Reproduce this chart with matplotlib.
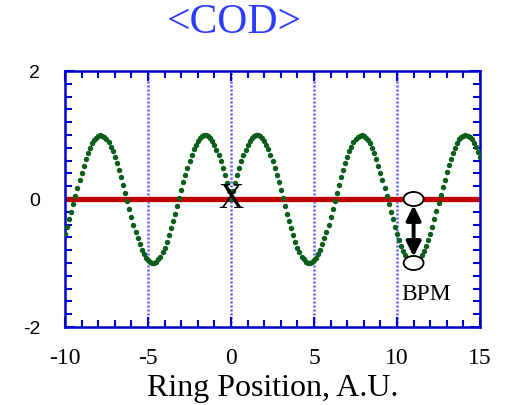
import matplotlib
matplotlib.use("Agg")
import matplotlib.pyplot as plt
import numpy as np
from matplotlib.patches import Ellipse
from matplotlib.ticker import MultipleLocator

plt.rcParams["axes.unicode_minus"] = False

# ---- data ----
x_pos = [-10 + 0.125 * i for i in range(201)]
cod_y = [
    # x = -10.0 ... -0.125
    -0.54, -0.44, -0.32, -0.20, -0.08, 0.05, 0.17, 0.30, 0.41,
    0.52, 0.62, 0.72, 0.80, 0.87, 0.92, 0.96, 0.99,
    1.00, 0.99, 0.97, 0.94, 0.89, 0.82, 0.75, 0.66,
    0.56, 0.45, 0.34, 0.22, 0.09, -0.03, -0.16, -0.28,
    -0.40, -0.51, -0.61, -0.71, -0.79, -0.86, -0.92, -0.96,
    -0.99, -1.00, -1.00, -0.98, -0.94, -0.90, -0.83, -0.76,
    -0.67, -0.57, -0.46, -0.35, -0.23, -0.11, 0.02, 0.14,
    0.26, 0.38, 0.49, 0.60, 0.69, 0.78, 0.85, 0.91,
    0.95, 0.98, 1.00, 1.00, 0.98, 0.95, 0.90, 0.84,
    0.77, 0.68, 0.59, 0.48, 0.37, 0.25, 0.12,
    # x = 0.0
    0.00,
    # x = 0.125 ... 15.0
    0.12, 0.25, 0.37, 0.48, 0.59, 0.68, 0.77, 0.84,
    0.90, 0.95, 0.98, 1.00, 1.00, 0.98, 0.95, 0.91,
    0.85, 0.78, 0.69, 0.60, 0.49, 0.38, 0.26, 0.14,
    0.02, -0.11, -0.23, -0.35, -0.46, -0.57, -0.67, -0.76,
    -0.83, -0.90, -0.94, -0.98, -1.00, -1.00, -0.99, -0.96,
    -0.92, -0.86, -0.79, -0.71, -0.61, -0.51, -0.40, -0.28,
    -0.16, -0.03, 0.09, 0.22, 0.34, 0.45, 0.56, 0.66,
    0.75, 0.82, 0.89, 0.94, 0.97, 0.99, 1.00, 0.99,
    0.96, 0.92, 0.87, 0.80, 0.72, 0.62, 0.52, 0.41,
    0.30, 0.17, 0.05, -0.08, -0.20, -0.32, -0.44, -0.54,
    -0.64, -0.73, -0.81, -0.88, -0.93, -0.97, -0.99, -1.00,
    -0.99, -0.97, -0.93, -0.88, -0.81, -0.73, -0.64, -0.54,
    -0.43, -0.31, -0.19, -0.07, 0.06, 0.18, 0.30, 0.42,
    0.53, 0.63, 0.72, 0.80, 0.87, 0.93, 0.97, 0.99,
    1.00, 0.99, 0.97, 0.93, 0.88, 0.82, 0.74, 0.65,
]
ref_x = [-10, 15]
ref_y = [0, 0]
bpm_x = 11
bpm_y = [0, -1]
x_ticks = [-10, -5, 0, 5, 10, 15]
y_ticks = [-2, 0, 2]
grid_x = [-5, 0, 5, 10]

blue = "#0000cc"
fig = plt.figure(figsize=(5.05, 4.05), dpi=100)
ax = fig.add_axes([65 / 505, 1 - 327 / 405, 415 / 505, 256 / 405])

for gx in grid_x:
    ax.axvline(gx, color="#5555ff", lw=1.8, ls=(0, (0.8, 0.8)), zorder=1)

ax.plot(ref_x, ref_y, color="#c00000", lw=3.8, solid_capstyle="round", zorder=2)
ax.plot(x_pos, cod_y, "o", color="#0b5e1b", ms=3.9, mec="none", zorder=3)

ax.text(0, 0, "X", family="Liberation Serif", fontsize=25, ha="center",
        va="center", color="black", zorder=5)

ax.annotate("", xy=(bpm_x, bpm_y[1] + 0.1), xytext=(bpm_x, bpm_y[0] - 0.1),
            arrowprops=dict(arrowstyle="<|-|>", color="black", lw=2.8,
                            mutation_scale=22, shrinkA=0, shrinkB=0), zorder=4)
for by in bpm_y:
    ax.add_patch(Ellipse((bpm_x, by), width=1.2, height=0.22, facecolor="white",
                         edgecolor="black", lw=1.3, zorder=6))
ax.text(11.75, -1.5, "BPM", family="Liberation Serif", fontsize=17,
        ha="center", va="center", color="black", zorder=5)

ax.set_xlim(-10, 15)
ax.set_ylim(-2, 2)
ax.set_xticks(x_ticks)
ax.set_yticks(y_ticks)
ax.xaxis.set_minor_locator(MultipleLocator(1))
ax.yaxis.set_minor_locator(MultipleLocator(0.2))
ax.tick_params(which="both", direction="in", top=True, right=True,
               color=blue, width=1.5)
ax.tick_params(which="major", length=7)
ax.tick_params(which="minor", length=5)
ax.tick_params(axis="x", which="major", pad=15, labelsize=17)
ax.tick_params(axis="y", which="major", pad=18, labelsize=14)
for lab in ax.get_xticklabels():
    lab.set_family("Liberation Serif")
for lab in ax.get_yticklabels():
    lab.set_family("Liberation Sans")
for sp in ax.spines.values():
    sp.set_color(blue)
    sp.set_linewidth(1.8)

ax.set_xlabel("Ring Position, A.U.", family="Liberation Serif", fontsize=23,
              labelpad=4)
fig.text(234.5 / 505, 1 - 23 / 405, "<COD>", family="Liberation Serif",
         fontsize=30, color="#2b3bff", ha="center", va="center")

fig.savefig("out.png", dpi=100)
